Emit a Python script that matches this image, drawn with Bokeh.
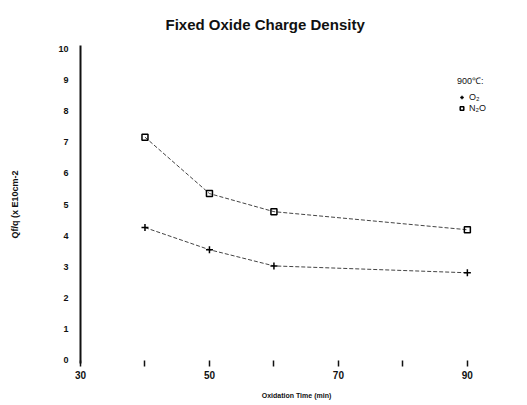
from bokeh.plotting import figure
from bokeh.models import Range1d, FixedTicker, Legend, LegendItem
from bokeh.embed import file_html
from bokeh.resources import INLINE

# ---- data ----
time_min = [40, 50, 60, 90]
o2_values = [4.26, 3.55, 3.03, 2.81]
n2o_values = [7.16, 5.35, 4.77, 4.19]

x_ticks = [30, 40, 50, 60, 70, 80, 90]
x_tick_labels = ["30", "", "50", "", "70", "", "90"]
y_ticks = [0, 1, 2, 3, 4, 5, 6, 7, 8, 9, 10]

title_text = "Fixed Oxide Charge Density"
x_label = "Oxidation Time (min)"
y_label = "Qf/q (x E10cm-2"
legend_title = "900\u2103:"
o2_label = "O\u2082"
n2o_label = "N\u2082O"

FONT = "Liberation Sans"
INK = "#111111"

p = figure(width=519, height=401, output_backend="svg", toolbar_location=None,
           x_range=Range1d(30, 97), y_range=Range1d(-0.1, 10.1),
           min_border_left=80, min_border_right=7, min_border_top=45,
           min_border_bottom=38)

p.background_fill_color = "white"
p.border_fill_color = "white"
p.outline_line_color = None
p.grid.visible = False

# title
p.title.text = title_text
p.title.text_font = FONT
p.title.text_font_style = "bold"
p.title.text_font_size = "15px"
p.title.text_color = INK
p.title.align = "left"
p.title.offset = 85
p.title.standoff = 26

# y axis
ya = p.yaxis[0]
ya.ticker = FixedTicker(ticks=y_ticks)
ya.axis_line_width = 2
ya.axis_line_color = INK
ya.major_tick_in = 0
ya.major_tick_out = 0
ya.minor_tick_line_color = None
ya.major_label_standoff = 12
ya.major_label_text_font = FONT
ya.major_label_text_font_style = "bold"
ya.major_label_text_font_size = "9px"
ya.major_label_text_color = INK
ya.axis_label = y_label
ya.axis_label_text_font = FONT
ya.axis_label_text_font_style = "bold"
ya.axis_label_text_font_size = "9px"
ya.axis_label_text_color = INK
ya.axis_label_standoff = 35

# x axis
xa = p.xaxis[0]
xa.ticker = FixedTicker(ticks=x_ticks)
xa.major_label_overrides = {t: l for t, l in zip(x_ticks, x_tick_labels)}
xa.axis_line_color = None
xa.major_tick_in = 3
xa.major_tick_out = 3
xa.major_tick_line_width = 1.5
xa.major_tick_line_color = INK
xa.minor_tick_line_color = None
xa.major_label_standoff = 4
xa.major_label_text_font = FONT
xa.major_label_text_font_style = "bold"
xa.major_label_text_font_size = "10px"
xa.major_label_text_color = INK
xa.axis_label = x_label
xa.axis_label_text_font = FONT
xa.axis_label_text_font_style = "bold"
xa.axis_label_text_font_size = "7px"
xa.axis_label_text_color = INK
xa.axis_label_standoff = 10

# series
p.line(time_min, n2o_values, line_color="#444444", line_width=1, line_dash="4 2")
p.line(time_min, o2_values, line_color="#444444", line_width=1, line_dash="4 2")
n2o_r = p.scatter(time_min, n2o_values, marker="square", size=6,
                  fill_color=None, line_color="black", line_width=1.5)
o2_r = p.scatter(time_min, o2_values, marker="cross", size=7,
                 line_color="black", line_width=1.5)

legend = Legend(items=[LegendItem(label=o2_label, renderers=[o2_r]),
                       LegendItem(label=n2o_label, renderers=[n2o_r])],
                title=legend_title, location=(377, 250))
legend.border_line_color = None
legend.background_fill_color = None
legend.padding = 0
legend.margin = 0
legend.spacing = 1
legend.glyph_width = 9
legend.glyph_height = 10
legend.label_height = 10
legend.label_standoff = 3
legend.label_text_font = FONT
legend.label_text_font_size = "9px"
legend.label_text_color = INK
legend.title_text_font = FONT
legend.title_text_font_size = "9px"
legend.title_text_font_style = "normal"
legend.title_text_color = INK
legend.title_standoff = 5
p.add_layout(legend)

open("out.html", "w").write(file_html(p, INLINE))
